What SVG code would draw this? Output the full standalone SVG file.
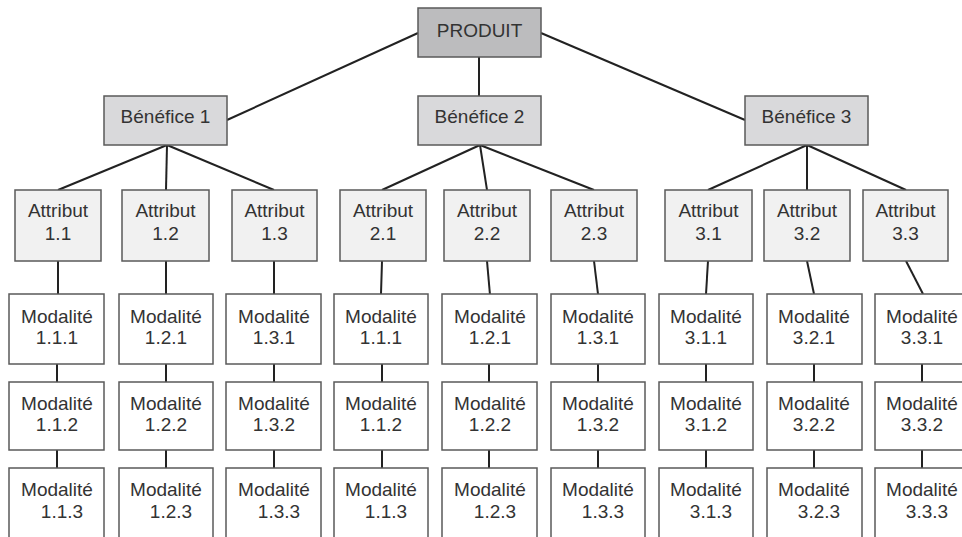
<svg xmlns="http://www.w3.org/2000/svg" width="962" height="537" viewBox="0 0 962 537">
  <style>
    .box { stroke: #5a5a5a; stroke-width: 1.5; }
    .root { fill: #bcbcbe; }
    .ben { fill: #d9d9db; }
    .attr { fill: #f1f1f1; }
    .mod { fill: #ffffff; }
    text { font-family: "Liberation Sans", Arial, sans-serif; font-size: 19px; fill: #333333; text-anchor: middle; }
    .links line { stroke: #222222; stroke-width: 2; }
  </style>
  <rect x="0" y="0" width="962" height="537" fill="#ffffff"/>

  <!-- connectors -->
  <g id="connectors" class="links">
    <line x1="418" y1="33" x2="227" y2="120"/>
    <line x1="479" y1="57" x2="479" y2="96"/>
    <line x1="541" y1="33" x2="745" y2="120"/>

    <line x1="167" y1="145" x2="58" y2="190"/>
    <line x1="167" y1="145" x2="166" y2="190"/>
    <line x1="167" y1="145" x2="274" y2="190"/>
    <line x1="480" y1="145" x2="382" y2="190"/>
    <line x1="480" y1="145" x2="487" y2="190"/>
    <line x1="480" y1="145" x2="594" y2="190"/>
    <line x1="807" y1="145" x2="708" y2="190"/>
    <line x1="807" y1="145" x2="807" y2="190"/>
    <line x1="807" y1="145" x2="906" y2="190"/>

    <line x1="58" y1="261" x2="58" y2="294"/>
    <line x1="166" y1="261" x2="166" y2="294"/>
    <line x1="274" y1="261" x2="274" y2="294"/>
    <line x1="382" y1="261" x2="381" y2="294"/>
    <line x1="487" y1="261" x2="490" y2="295"/>
    <line x1="594" y1="261" x2="598" y2="294"/>
    <line x1="708" y1="261" x2="706" y2="294"/>
    <line x1="807" y1="261" x2="814" y2="294"/>
    <line x1="906" y1="261" x2="923" y2="294"/>

    <line x1="57" y1="364" x2="57" y2="382"/><line x1="57" y1="450" x2="57" y2="468"/>
    <line x1="166" y1="364" x2="166" y2="382"/><line x1="166" y1="450" x2="166" y2="468"/>
    <line x1="274" y1="364" x2="274" y2="382"/><line x1="274" y1="450" x2="274" y2="468"/>
    <line x1="382" y1="364" x2="382" y2="382"/><line x1="382" y1="450" x2="382" y2="468"/>
    <line x1="489" y1="364" x2="489" y2="382"/><line x1="489" y1="450" x2="489" y2="468"/>
    <line x1="598" y1="364" x2="598" y2="382"/><line x1="598" y1="450" x2="598" y2="468"/>
    <line x1="706" y1="364" x2="706" y2="382"/><line x1="706" y1="450" x2="706" y2="468"/>
    <line x1="814" y1="364" x2="814" y2="382"/><line x1="814" y1="450" x2="814" y2="468"/>
    <line x1="922" y1="364" x2="922" y2="382"/><line x1="922" y1="450" x2="922" y2="468"/>
  </g>

  <!-- root -->
  <g id="produit"><rect class="box root" x="418" y="8" width="123" height="49"/><text x="479.5" y="37">PRODUIT</text></g>

  <!-- benefits -->
  <g id="benefice-1"><rect class="box ben" x="104" y="96" width="123" height="49"/><text x="165.5" y="123">Bénéfice 1</text></g>
  <g id="benefice-2"><rect class="box ben" x="418" y="96" width="123" height="49"/><text x="479.5" y="123">Bénéfice 2</text></g>
  <g id="benefice-3"><rect class="box ben" x="745" y="96" width="123" height="49"/><text x="806.5" y="123">Bénéfice 3</text></g>

  <!-- attributes -->
  <g id="attribut-1-1"><rect class="box attr" x="15" y="190" width="86" height="71"/><text x="58" y="217">Attribut</text><text x="58" y="240">1.1</text></g>
  <g id="attribut-1-2"><rect class="box attr" x="122" y="190" width="87" height="71"/><text x="165.5" y="217">Attribut</text><text x="165.5" y="240">1.2</text></g>
  <g id="attribut-1-3"><rect class="box attr" x="232" y="190" width="85" height="71"/><text x="274.5" y="217">Attribut</text><text x="274.5" y="240">1.3</text></g>
  <g id="attribut-2-1"><rect class="box attr" x="340" y="190" width="86" height="71"/><text x="383" y="217">Attribut</text><text x="383" y="240">2.1</text></g>
  <g id="attribut-2-2"><rect class="box attr" x="444" y="190" width="86" height="71"/><text x="487" y="217">Attribut</text><text x="487" y="240">2.2</text></g>
  <g id="attribut-2-3"><rect class="box attr" x="551" y="190" width="86" height="71"/><text x="594" y="217">Attribut</text><text x="594" y="240">2.3</text></g>
  <g id="attribut-3-1"><rect class="box attr" x="665" y="190" width="87" height="71"/><text x="708.5" y="217">Attribut</text><text x="708.5" y="240">3.1</text></g>
  <g id="attribut-3-2"><rect class="box attr" x="764" y="190" width="86" height="71"/><text x="807" y="217">Attribut</text><text x="807" y="240">3.2</text></g>
  <g id="attribut-3-3"><rect class="box attr" x="863" y="190" width="85" height="71"/><text x="905.5" y="217">Attribut</text><text x="905.5" y="240">3.3</text></g>

  <!-- modalities, column 1 -->
  <g id="mod-c1-r1"><rect class="box mod" x="9" y="294" width="95" height="70"/><text x="57" y="323">Modalité</text><text x="57" y="344">1.1.1</text></g>
  <g id="mod-c1-r2"><rect class="box mod" x="9" y="382" width="95" height="68"/><text x="57" y="410">Modalité</text><text x="57" y="431">1.1.2</text></g>
  <g id="mod-c1-r3"><rect class="box mod" x="9" y="468" width="95" height="80"/><text x="57" y="496">Modalité</text><text x="62" y="518">1.1.3</text></g>
  <!-- column 2 -->
  <g id="mod-c2-r1"><rect class="box mod" x="119" y="294" width="94" height="70"/><text x="166" y="323">Modalité</text><text x="166" y="344">1.2.1</text></g>
  <g id="mod-c2-r2"><rect class="box mod" x="119" y="382" width="94" height="68"/><text x="166" y="410">Modalité</text><text x="166" y="431">1.2.2</text></g>
  <g id="mod-c2-r3"><rect class="box mod" x="119" y="468" width="94" height="80"/><text x="166" y="496">Modalité</text><text x="171" y="518">1.2.3</text></g>
  <!-- column 3 -->
  <g id="mod-c3-r1"><rect class="box mod" x="226" y="294" width="95" height="70"/><text x="274" y="323">Modalité</text><text x="274" y="344">1.3.1</text></g>
  <g id="mod-c3-r2"><rect class="box mod" x="226" y="382" width="95" height="68"/><text x="274" y="410">Modalité</text><text x="274" y="431">1.3.2</text></g>
  <g id="mod-c3-r3"><rect class="box mod" x="226" y="468" width="95" height="80"/><text x="274" y="496">Modalité</text><text x="279" y="518">1.3.3</text></g>
  <!-- column 4 -->
  <g id="mod-c4-r1"><rect class="box mod" x="334" y="294" width="94" height="70"/><text x="381" y="323">Modalité</text><text x="381" y="344">1.1.1</text></g>
  <g id="mod-c4-r2"><rect class="box mod" x="334" y="382" width="94" height="68"/><text x="381" y="410">Modalité</text><text x="381" y="431">1.1.2</text></g>
  <g id="mod-c4-r3"><rect class="box mod" x="334" y="468" width="94" height="80"/><text x="381" y="496">Modalité</text><text x="386" y="518">1.1.3</text></g>
  <!-- column 5 -->
  <g id="mod-c5-r1"><rect class="box mod" x="442" y="294" width="95" height="70"/><text x="490" y="323">Modalité</text><text x="490" y="344">1.2.1</text></g>
  <g id="mod-c5-r2"><rect class="box mod" x="442" y="382" width="95" height="68"/><text x="490" y="410">Modalité</text><text x="490" y="431">1.2.2</text></g>
  <g id="mod-c5-r3"><rect class="box mod" x="442" y="468" width="95" height="80"/><text x="490" y="496">Modalité</text><text x="495" y="518">1.2.3</text></g>
  <!-- column 6 -->
  <g id="mod-c6-r1"><rect class="box mod" x="551" y="294" width="94" height="70"/><text x="598" y="323">Modalité</text><text x="598" y="344">1.3.1</text></g>
  <g id="mod-c6-r2"><rect class="box mod" x="551" y="382" width="94" height="68"/><text x="598" y="410">Modalité</text><text x="598" y="431">1.3.2</text></g>
  <g id="mod-c6-r3"><rect class="box mod" x="551" y="468" width="94" height="80"/><text x="598" y="496">Modalité</text><text x="603" y="518">1.3.3</text></g>
  <!-- column 7 -->
  <g id="mod-c7-r1"><rect class="box mod" x="659" y="294" width="94" height="70"/><text x="706" y="323">Modalité</text><text x="706" y="344">3.1.1</text></g>
  <g id="mod-c7-r2"><rect class="box mod" x="659" y="382" width="94" height="68"/><text x="706" y="410">Modalité</text><text x="706" y="431">3.1.2</text></g>
  <g id="mod-c7-r3"><rect class="box mod" x="659" y="468" width="94" height="80"/><text x="706" y="496">Modalité</text><text x="711" y="518">3.1.3</text></g>
  <!-- column 8 -->
  <g id="mod-c8-r1"><rect class="box mod" x="767" y="294" width="95" height="70"/><text x="814" y="323">Modalité</text><text x="814" y="344">3.2.1</text></g>
  <g id="mod-c8-r2"><rect class="box mod" x="767" y="382" width="95" height="68"/><text x="814" y="410">Modalité</text><text x="814" y="431">3.2.2</text></g>
  <g id="mod-c8-r3"><rect class="box mod" x="767" y="468" width="95" height="80"/><text x="814" y="496">Modalité</text><text x="819" y="518">3.2.3</text></g>
  <!-- column 9 (runs past the right edge) -->
  <g id="mod-c9-r1"><rect class="box mod" x="875" y="294" width="95" height="70"/><text x="922" y="323">Modalité</text><text x="922" y="344">3.3.1</text></g>
  <g id="mod-c9-r2"><rect class="box mod" x="875" y="382" width="95" height="68"/><text x="922" y="410">Modalité</text><text x="922" y="431">3.3.2</text></g>
  <g id="mod-c9-r3"><rect class="box mod" x="875" y="468" width="95" height="80"/><text x="922" y="496">Modalité</text><text x="927" y="518">3.3.3</text></g>
</svg>
